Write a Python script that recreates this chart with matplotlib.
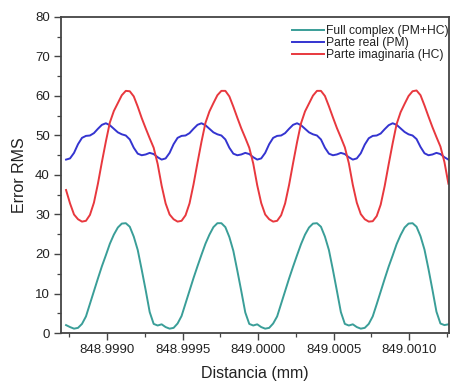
import numpy as np
import matplotlib
matplotlib.use("Agg")
import matplotlib.pyplot as plt
from matplotlib.ticker import MultipleLocator, FormatStrFormatter

plt.rcParams['font.family'] = ['Liberation Sans', 'DejaVu Sans']

# distance samples (mm)
x_start = 848.9987285
x_end = 849.001261
n_pts = 97

full_complex = [
    2.0, 1.5, 1.1, 1.3, 2.3, 4.2, 7.4, 10.6, 13.8, 16.9, 19.7, 22.6, 24.9, 26.7, 27.7, 27.8, 26.9, 24.4, 21.0, 16.0, 10.8, 5.3, 2.3, 1.9,
    2.2, 1.5, 1.1, 1.3, 2.4, 4.3, 7.5, 10.7, 13.9, 16.9, 19.8, 22.6, 24.9, 26.8, 27.8, 27.8, 26.8, 24.3, 20.8, 15.8, 10.6, 5.2, 2.3, 1.9,
    2.2, 1.5, 1.1, 1.3, 2.4, 4.2, 7.4, 10.6, 13.8, 16.8, 19.7, 22.5, 24.9, 26.7, 27.7, 27.8, 26.9, 24.4, 21.0, 16.0, 10.7, 5.3, 2.3, 1.9,
    2.2, 1.5, 1.1, 1.3, 2.3, 4.2, 7.3, 10.5, 13.7, 16.8, 19.6, 22.5, 24.8, 26.7, 27.7, 27.8, 26.9, 24.5, 21.1, 16.2, 10.9, 5.4, 2.4, 2.0,
    2.2,
]

parte_real = [
    43.9, 44.2, 45.6, 47.8, 49.4, 49.9, 50.0, 50.6, 51.7, 52.7, 53.1, 52.6, 51.7, 50.8, 50.3, 50.0, 49.0, 46.9, 45.4, 45.0, 45.2, 45.6, 45.3, 44.5,
    43.9, 44.2, 45.6, 47.8, 49.4, 49.9, 50.0, 50.6, 51.7, 52.7, 53.1, 52.6, 51.7, 50.8, 50.3, 50.0, 49.0, 46.9, 45.4, 45.0, 45.2, 45.6, 45.3, 44.5,
    43.9, 44.2, 45.6, 47.8, 49.4, 49.9, 50.0, 50.6, 51.7, 52.7, 53.1, 52.6, 51.7, 50.8, 50.3, 50.0, 49.0, 46.9, 45.4, 45.0, 45.2, 45.6, 45.3, 44.5,
    43.9, 44.2, 45.5, 47.7, 49.3, 49.9, 50.0, 50.5, 51.6, 52.6, 53.1, 52.7, 51.8, 50.9, 50.3, 50.0, 49.1, 47.1, 45.5, 45.0, 45.2, 45.6, 45.3, 44.5,
    43.9,
]

parte_imaginaria = [
    36.2, 32.8, 30.0, 28.8, 28.2, 28.4, 29.9, 33.0, 37.8, 43.3, 48.5, 53.3, 56.2, 58.2, 60.2, 61.3, 61.2, 59.9, 57.3, 54.4, 51.8, 49.3, 46.9, 42.8,
    37.3, 32.8, 30.0, 28.8, 28.2, 28.4, 29.8, 32.8, 37.6, 43.1, 48.4, 53.2, 56.1, 58.2, 60.2, 61.3, 61.3, 59.9, 57.3, 54.5, 51.8, 49.4, 46.9, 42.9,
    37.4, 32.9, 30.0, 28.8, 28.2, 28.4, 29.8, 32.8, 37.5, 43.0, 48.3, 53.1, 56.1, 58.1, 60.1, 61.3, 61.3, 60.0, 57.4, 54.6, 51.9, 49.5, 47.0, 43.0,
    37.5, 33.0, 30.1, 28.8, 28.2, 28.3, 29.6, 32.5, 37.2, 42.7, 48.0, 52.9, 55.9, 58.0, 60.0, 61.2, 61.4, 60.2, 57.6, 54.8, 52.1, 49.6, 47.2, 43.3,
    37.8,
]

labels = ["Full complex (PM+HC)", "Parte real (PM)", "Parte imaginaria (HC)"]
colors = ["#3a9e98", "#3434d0", "#e8383e"]

x = np.linspace(x_start, x_end, n_pts)

fig = plt.figure(figsize=(4.51, 3.85), dpi=100)
ax = fig.add_axes([61/451, 52/385, 388/451, 316/385])

for y, lab, c in zip([full_complex, parte_real, parte_imaginaria], labels, colors):
    ax.plot(x, y, color=c, lw=1.4, label=lab)

ax.set_xlim(848.998695, 849.001265)
ax.set_ylim(0, 80)
ax.xaxis.set_major_locator(MultipleLocator(0.0005))
ax.xaxis.set_minor_locator(MultipleLocator(0.00025))
ax.xaxis.set_major_formatter(FormatStrFormatter('%.4f'))
ax.yaxis.set_major_locator(MultipleLocator(10))
ax.yaxis.set_minor_locator(MultipleLocator(5))

axcol = "#444444"
for s in ax.spines.values():
    s.set_color(axcol)
    s.set_linewidth(1.3)
ax.tick_params(which='major', direction='out', length=5, width=1.0, color=axcol,
               labelsize=9.5, labelcolor='#222222', pad=3)
ax.tick_params(which='minor', direction='out', length=3, width=0.9, color=axcol)
ax.tick_params(top=False, right=False)

ax.set_xlabel("Distancia (mm)", fontsize=11.5, color='#222222', labelpad=7)
ax.set_ylabel("Error RMS", fontsize=11.5, color='#222222', labelpad=6)

leg = ax.legend(loc='upper left', bbox_to_anchor=((292 - 61) / 388, 1 - 8.5 / 316),
                frameon=False, fontsize=8.75, handlelength=2.6, handletextpad=0.2,
                labelspacing=0.0, borderpad=0, borderaxespad=0)
for t in leg.get_texts():
    t.set_color('#222222')

fig.savefig("out.png", dpi=100)
